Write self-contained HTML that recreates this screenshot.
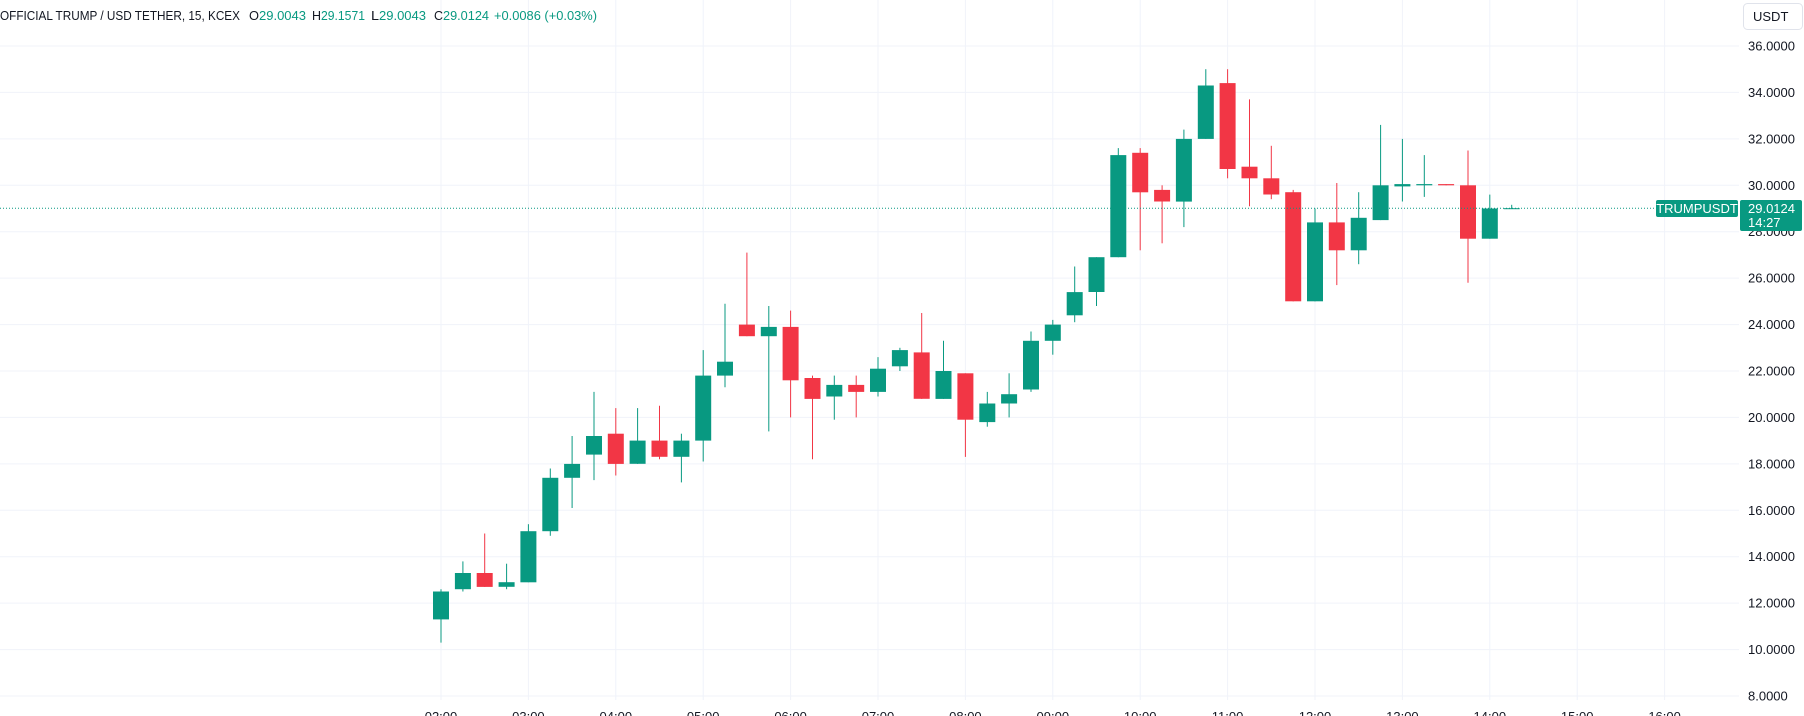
<!DOCTYPE html>
<html><head><meta charset="utf-8"><style>
html,body{margin:0;padding:0;background:#fff;width:1804px;height:716px;overflow:hidden}
svg{display:block;font-family:"Liberation Sans",sans-serif}
</style></head><body>
<svg id="c" width="1804" height="716" xmlns="http://www.w3.org/2000/svg"></svg>
<script>
const S=document.getElementById('c');let h='';
const Y=p=>46+(36-p)*23.214, X=t=>441+(t-2)*87.4;
for(let p=8;p<=36;p+=2){const y=Y(p).toFixed(1);h+=`<line x1="0" x2="1739" y1="${y}" y2="${y}" stroke="#f0f3fa" stroke-width="1"/>`;}
for(let t=2;t<=16;t++){const x=X(t).toFixed(1);h+=`<line x1="${x}" x2="${x}" y1="0" y2="700" stroke="#f0f3fa" stroke-width="1"/>`;}
for(let p=8;p<=36;p+=2){h+=`<text x="1748" y="${(Y(p)+4.5).toFixed(1)}" font-size="13" fill="#131722">${p.toFixed(4)}</text>`;}
for(let t=2;t<=16;t++){h+=`<text x="${X(t).toFixed(1)}" y="721" font-size="13" fill="#131722" text-anchor="middle">${String(t).padStart(2,'0')}:00</text>`;}
const d=[[11.3,12.6,10.3,12.5],[12.6,13.8,12.5,13.3],[13.3,15.0,12.7,12.7],[12.7,13.7,12.6,12.9],[12.9,15.4,12.9,15.1],[15.1,17.8,14.9,17.4],[17.4,19.2,16.1,18.0],[18.4,21.1,17.3,19.2],[19.3,20.4,17.5,18.0],[18.0,20.4,18.0,19.0],[19.0,20.5,18.2,18.3],[18.3,19.3,17.2,19.0],[19.0,22.9,18.1,21.8],[21.8,24.9,21.3,22.4],[24.0,27.1,23.5,23.5],[23.5,24.8,19.4,23.9],[23.9,24.6,20.0,21.6],[21.7,21.8,18.2,20.8],[20.9,21.8,19.9,21.4],[21.4,21.8,20.0,21.1],[21.1,22.6,20.9,22.1],[22.2,23.0,22.0,22.9],[22.8,24.5,20.8,20.8],[20.8,23.3,20.8,22.0],[21.9,21.9,18.3,19.9],[19.8,21.1,19.6,20.6],[20.6,21.9,20.0,21.0],[21.2,23.7,21.1,23.3],[23.3,24.2,22.7,24.0],[24.4,26.5,24.1,25.4],[25.4,26.9,24.8,26.9],[26.9,31.6,26.9,31.3],[31.4,31.6,27.2,29.7],[29.8,30.0,27.5,29.3],[29.3,32.4,28.2,32.0],[32.0,35.0,32.0,34.3],[34.4,35.0,30.3,30.7],[30.8,33.7,29.1,30.3],[30.3,31.7,29.4,29.6],[29.7,29.8,25.0,25.0],[25.0,29.0,25.0,28.4],[28.4,30.1,25.7,27.2],[27.2,29.7,26.6,28.6],[28.5,32.6,28.5,30.0],[29.95,32.0,29.3,30.05],[30.0,31.3,29.5,30.05],[30.05,30.05,30.0,30.0],[30.0,31.5,25.8,27.7],[27.7,29.6,27.7,29.0],[29.0,29.16,29.0,29.012]];
d.forEach((c,i)=>{const [o,hi,lo,cl]=c;const x=X(2+i*0.25);const col=cl>=o?'#089981':'#f23645';
h+=`<line x1="${x.toFixed(1)}" x2="${x.toFixed(1)}" y1="${Y(hi).toFixed(1)}" y2="${Y(lo).toFixed(1)}" stroke="${col}" stroke-width="1"/>`;
const t=Y(Math.max(o,cl)),b=Y(Math.min(o,cl));h+=`<rect x="${(x-8).toFixed(1)}" y="${t.toFixed(1)}" width="16" height="${Math.max(1,b-t).toFixed(1)}" fill="${col}"/>`;});
const py=Y(29.0124).toFixed(1);
h+=`<line x1="0" x2="1656" y1="${py}" y2="${py}" stroke="#089981" stroke-width="1" stroke-dasharray="1,2"/>`;
h+=`<rect x="1656" y="200" width="82" height="17" rx="2" fill="#089981"/><text x="1697" y="213" font-size="13" fill="#fff" text-anchor="middle">TRUMPUSDT</text>`;
h+=`<rect x="1740" y="200" width="62" height="31" rx="2" fill="#089981"/><text x="1748" y="213" font-size="13" fill="#fff">29.0124</text><text x="1748" y="227" font-size="13" fill="#fff">14:27</text>`;
h+=`<rect x="1743.5" y="3.5" width="59" height="26" rx="4" fill="#fff" stroke="#e0e3eb"/><text x="1753" y="21" font-size="13" fill="#131722">USDT</text>`;
const G='#089981',K='#131722';
const seg=[[0,240,K,'OFFICIAL TRUMP / USD TETHER, 15, KCEX'],[249,10,K,'O'],[259,47,G,'29.0043'],[312,9,K,'H'],[321,44,G,'29.1571'],[371,8,K,'L'],[379,47,G,'29.0043'],[434,9,K,'C'],[443,46,G,'29.0124'],[494,103,G,'+0.0086 (+0.03%)']];
seg.forEach(s=>{h+=`<text x="${s[0]}" y="20" font-size="13" fill="${s[2]}" textLength="${s[1]}" lengthAdjust="spacingAndGlyphs">${s[3]}</text>`;});
S.innerHTML=h;
</script>
</body></html>
